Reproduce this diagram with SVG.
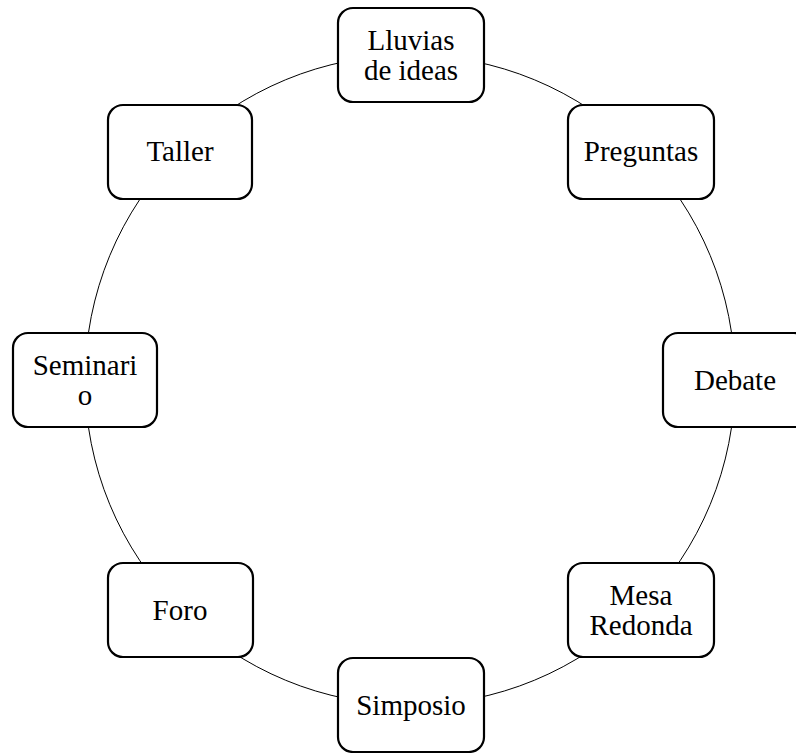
<svg xmlns="http://www.w3.org/2000/svg" width="796" height="753" viewBox="0 0 796 753">
<style>
.box{fill:#fff;stroke:#000;stroke-width:2.2}
.t{font-family:"Liberation Serif","Times New Roman",serif;font-size:29px;fill:#000;text-anchor:middle}
.c{fill:none;stroke:#000;stroke-width:1}
</style>
<rect width="796" height="753" fill="#fff"/>
<g id="connectors">
<circle class="c" cx="410" cy="380" r="325"/>
</g>
<g id="lluvias">
<rect class="box" x="338" y="8" width="146" height="94" rx="15"/>
<text class="t" x="411" y="50">Lluvias</text>
<text class="t" x="411" y="80">de ideas</text>
</g>
<g id="preguntas">
<rect class="box" x="568" y="105" width="146" height="94" rx="15"/>
<text class="t" x="641" y="161">Preguntas</text>
</g>
<g id="debate">
<rect class="box" x="663" y="333" width="146" height="94" rx="15"/>
<text class="t" x="735" y="390">Debate</text>
</g>
<g id="mesa">
<rect class="box" x="568" y="563" width="146" height="94" rx="15"/>
<text class="t" x="641" y="605">Mesa</text>
<text class="t" x="641" y="635">Redonda</text>
</g>
<g id="simposio">
<rect class="box" x="338" y="658" width="146" height="94" rx="15"/>
<text class="t" x="411" y="715">Simposio</text>
</g>
<g id="foro">
<rect class="box" x="108" y="563" width="145" height="94" rx="15"/>
<text class="t" x="180" y="620">Foro</text>
</g>
<g id="seminario">
<rect class="box" x="13" y="333" width="144" height="94" rx="15"/>
<text class="t" x="85" y="375">Seminari</text>
<text class="t" x="85" y="405">o</text>
</g>
<g id="taller">
<rect class="box" x="108" y="105" width="144" height="94" rx="15"/>
<text class="t" x="180" y="161">Taller</text>
</g>
</svg>
